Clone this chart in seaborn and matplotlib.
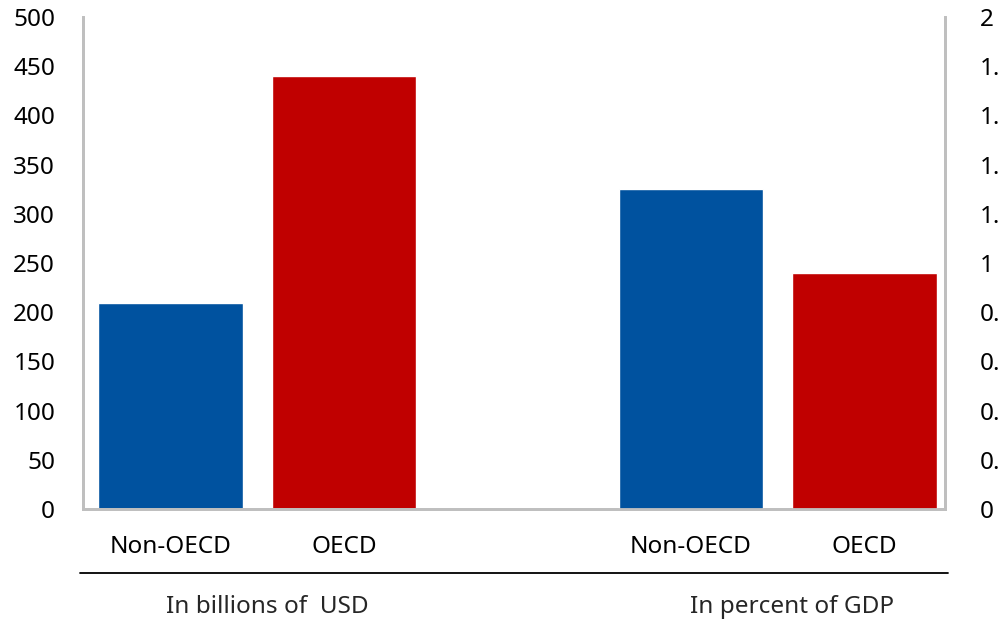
import matplotlib
matplotlib.use("Agg")
import matplotlib.pyplot as plt
import matplotlib.lines as mlines
import pandas as pd
import seaborn as sns

# data
regions = ["Non-OECD", "OECD"]
usd_billions = [209, 440]
pct_gdp = [1.30, 0.96]
group_labels = ["In billions of  USD", "In percent of GDP"]

left_ticks = list(range(0, 501, 50))
right_ticks = [0, 0.2, 0.4, 0.6, 0.8, 1, 1.2, 1.4, 1.6, 1.8, 2]
right_ticklabels = ["0", "0.2", "0.4", "0.6", "0.8", "1", "1.2", "1.4", "1.6", "1.8", "2"]

blue = "#00529F"
red = "#C00000"
grey = "#BFBFBF"

sns.set_style("white")
plt.rcParams["font.family"] = ["Noto Sans", "DejaVu Sans"]
fontsize = 17.5

# five slots on the x axis, the middle one left empty
slots = ["usd_a", "usd_b", "gap", "pct_a", "pct_b"]
df_usd = pd.DataFrame({"slot": slots[:2], "region": regions, "value": usd_billions})
df_pct = pd.DataFrame({"slot": slots[3:], "region": regions, "value": pct_gdp})
palette = {"Non-OECD": blue, "OECD": red}

fig = plt.figure(figsize=(9.99, 6.23), dpi=100)
ax = fig.add_axes([0.0831, 0.183, 0.8629, 0.7897])
ax2 = ax.twinx()

sns.barplot(data=df_usd, x="slot", y="value", hue="region", order=slots,
            palette=palette, width=0.835, legend=False, ax=ax, saturation=1)
sns.barplot(data=df_pct, x="slot", y="value", hue="region", order=slots,
            palette=palette, width=0.835, legend=False, ax=ax2, saturation=1)

ax.set_xlim(-0.504, 4.464)
ax.set_ylim(0, 500)
ax2.set_ylim(0, 2)
ax.set_yticks(left_ticks)
ax2.set_yticks(right_ticks)
ax2.set_yticklabels(right_ticklabels)
ax.set_xticks([0, 1, 3, 4])
ax.set_xticklabels(regions + regions)
ax.set_xlabel("")
ax.set_ylabel("")
ax2.set_ylabel("")

for a in (ax, ax2):
    for side in ["left", "right", "bottom"]:
        a.spines[side].set_color(grey)
        a.spines[side].set_linewidth(2)
    a.spines["top"].set_visible(False)
    a.tick_params(length=0, labelsize=fontsize, colors="black")
ax.tick_params(axis="y", pad=20)
ax2.tick_params(axis="y", pad=25)
ax.tick_params(axis="x", pad=19)

# group labels under the category names
fig.add_artist(mlines.Line2D([0.080, 0.949], [1 - 573 / 623, 1 - 573 / 623],
                             color="black", linewidth=1.3))
ax.text(0.556, -0.2, group_labels[0], transform=ax.get_xaxis_transform(),
        ha="center", va="center", fontsize=fontsize)
ax.text(3.58, -0.2, group_labels[1], transform=ax.get_xaxis_transform(),
        ha="center", va="center", fontsize=fontsize)

plt.savefig("out.png", dpi=100)
